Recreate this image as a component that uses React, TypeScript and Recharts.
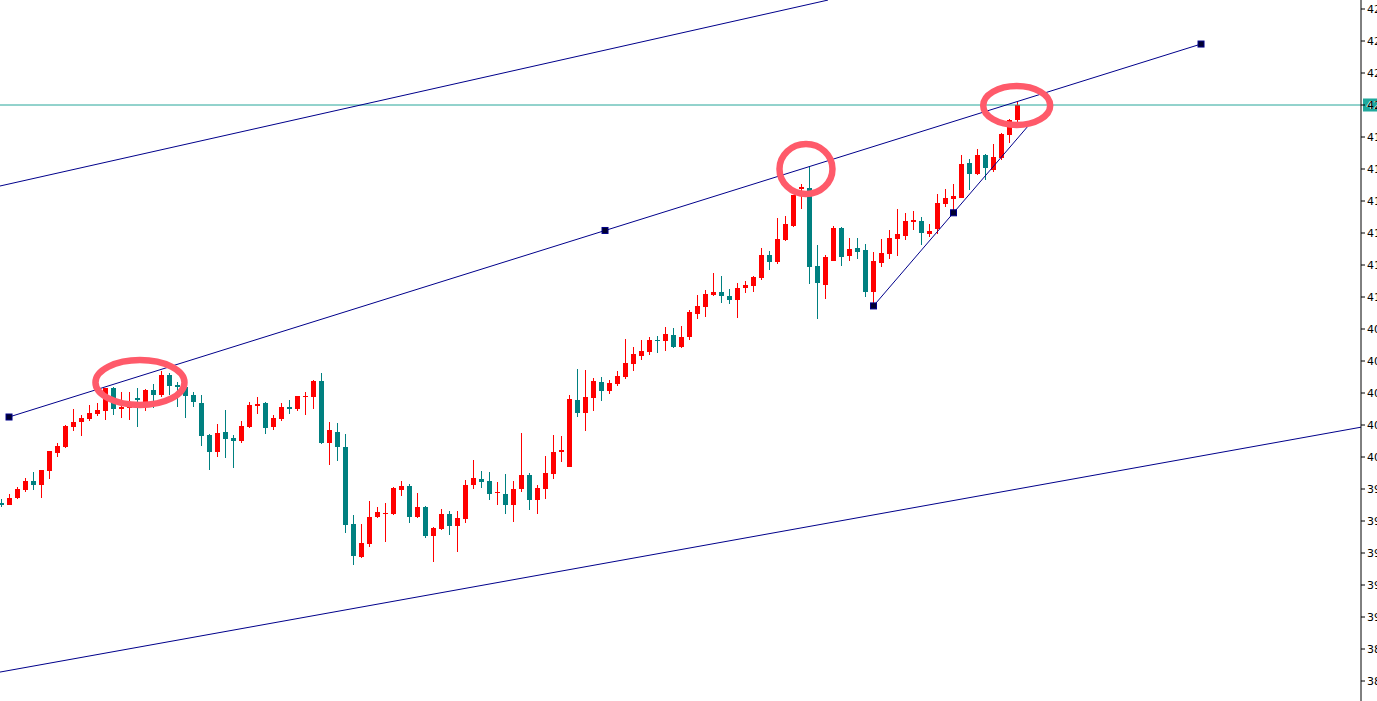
import { Bar, ComposedChart, ReferenceDot, ReferenceLine, XAxis, YAxis } from "recharts";

// candle i (1-based) ohlc
const opens = [
  3979.5, 3978.7, 3982.8, 3987.4, 3992.8, 3990.4, 3998.7, 4009.4, 4012.9, 4024.8,
  4027.8, 4029.6, 4032.5, 4034.3, 4048.0, 4035.7, 4036.1, 4042.0, 4037.3, 4046.8,
  4043.8, 4055.7, 4049.7, 4048.6, 4043.8, 4039.1, 4020.1, 4010.0, 4021.8, 4018.3,
  4016.5, 4024.8, 4037.5, 4039.1, 4024.8, 4029.6, 4036.7, 4035.5, 4042.8, 4042.6,
  4052.1, 4015.3, 4021.8, 4012.9, 3967.2, 3947.6, 3955.3, 3971.4, 3973.2, 3973.2,
  3987.4, 3989.8, 3971.4, 3977.3, 3960.1, 3964.2, 3973.2, 3966.0, 3970.2, 3990.4,
  3993.9, 3992.8, 3985.6, 3985.0, 3978.5, 3988.0, 3996.3, 3981.5, 3988.0, 3996.9,
  4010.0, 4001.1, 4040.8, 4033.1, 4042.0, 4051.5, 4046.2, 4050.3, 4054.5, 4062.4,
  4067.1, 4069.5, 4076.5, 4075.9, 4079.4, 4072.3, 4078.3, 4091.9, 4096.1, 4103.2,
  4105.0, 4102.6, 4100.4, 4107.3, 4108.7, 4113.5, 4126.9, 4122.9, 4135.8, 4144.2,
  4166.1, 4166.7, 4120.4, 4109.3, 4123.5, 4143.0, 4126.5, 4131.1, 4129.9, 4105.2,
  4122.2, 4127.5, 4136.4, 4138.2, 4146.5, 4147.1, 4139.4, 4142.4, 4157.2, 4160.2,
  4160.8, 4181.6, 4175.0, 4186.3, 4177.4, 4184.5, 4198.2, 4207.1,
];
const highs = [
  3981.9, 3985.0, 3989.2, 3994.5, 3998.1, 3999.3, 4010.7, 4015.1, 4025.8, 4035.3,
  4031.9, 4037.9, 4039.1, 4048.0, 4048.7, 4045.6, 4045.4, 4048.0, 4047.4, 4050.3,
  4058.1, 4056.9, 4051.8, 4051.5, 4045.4, 4043.8, 4020.7, 4026.6, 4034.9, 4020.1,
  4028.4, 4039.7, 4042.4, 4039.7, 4031.9, 4039.1, 4040.8, 4043.2, 4045.6, 4052.7,
  4056.7, 4027.8, 4027.2, 4020.7, 3972.6, 3967.2, 3980.9, 3977.3, 3979.7, 3989.2,
  3992.8, 3991.0, 3985.6, 3977.9, 3965.4, 3976.1, 3974.9, 3974.9, 3993.4, 4005.2,
  3998.7, 3998.1, 3992.2, 3996.9, 3992.8, 4021.2, 3997.5, 3990.4, 4007.6, 4020.1,
  4019.5, 4043.8, 4059.2, 4058.7, 4053.9, 4054.5, 4052.7, 4058.1, 4077.1, 4072.3,
  4076.5, 4078.3, 4078.9, 4084.2, 4083.6, 4084.8, 4094.3, 4103.2, 4106.2, 4116.3,
  4114.5, 4106.6, 4110.5, 4111.5, 4114.5, 4131.1, 4129.3, 4148.9, 4150.1, 4162.6,
  4169.1, 4179.2, 4132.9, 4126.9, 4144.2, 4143.6, 4137.2, 4137.0, 4133.5, 4128.7,
  4136.4, 4141.8, 4154.3, 4151.9, 4153.1, 4149.5, 4145.3, 4163.2, 4166.1, 4169.1,
  4186.3, 4183.9, 4189.9, 4186.9, 4192.8, 4199.4, 4207.7, 4217.8,
];
const lows = [
  3977.1, 3978.3, 3981.9, 3986.4, 3987.4, 3982.8, 3994.1, 4007.2, 4012.5, 4022.6,
  4019.5, 4028.5, 4031.5, 4029.0, 4031.9, 4030.2, 4029.0, 4024.8, 4034.3, 4036.1,
  4042.8, 4043.8, 4036.4, 4030.2, 4036.4, 4013.5, 3999.3, 4007.0, 4006.4, 4000.5,
  4015.5, 4024.4, 4032.5, 4020.7, 4023.0, 4028.5, 4032.5, 4034.3, 4031.9, 4035.5,
  4015.0, 4002.2, 4004.6, 3961.8, 3943.1, 3947.3, 3953.7, 3970.8, 3956.5, 3972.6,
  3983.8, 3967.8, 3971.0, 3958.9, 3944.7, 3963.7, 3960.7, 3950.6, 3967.8, 3988.0,
  3988.6, 3981.5, 3978.5, 3973.2, 3968.4, 3986.2, 3975.5, 3973.2, 3982.1, 3993.9,
  4004.0, 4000.8, 4030.8, 4022.4, 4034.3, 4040.2, 4044.4, 4049.1, 4053.3, 4058.2,
  4064.8, 4067.7, 4068.9, 4070.1, 4071.7, 4071.7, 4076.5, 4088.9, 4090.1, 4102.6,
  4098.4, 4098.0, 4089.4, 4104.6, 4105.1, 4112.1, 4118.0, 4121.8, 4135.3, 4143.6,
  4154.4, 4109.9, 4089.1, 4101.0, 4123.2, 4120.6, 4123.5, 4124.7, 4102.2, 4096.7,
  4119.8, 4124.6, 4126.3, 4135.8, 4141.8, 4132.9, 4137.8, 4139.4, 4155.3, 4152.0,
  4160.5, 4165.5, 4174.4, 4171.5, 4176.2, 4183.3, 4193.4, 4205.9,
];
const closes = [
  3978.3, 3982.7, 3988.0, 3992.8, 3990.4, 3999.3, 4010.7, 4013.5, 4025.4, 4027.8,
  4030.2, 4033.1, 4034.9, 4048.0, 4035.5, 4036.9, 4036.7, 4040.8, 4046.8, 4043.8,
  4055.7, 4049.3, 4048.3, 4043.4, 4039.7, 4019.5, 4010.0, 4021.2, 4017.7, 4016.5,
  4025.4, 4037.9, 4038.6, 4024.2, 4030.2, 4036.7, 4035.5, 4043.2, 4043.4, 4052.1,
  4015.3, 4023.0, 4012.9, 3966.6, 3948.2, 3955.9, 3971.4, 3974.3, 3973.8, 3988.6,
  3989.8, 3971.4, 3977.3, 3960.1, 3964.8, 3973.2, 3966.0, 3970.8, 3990.4, 3994.5,
  3992.2, 3985.0, 3986.2, 3978.5, 3988.0, 3996.3, 3981.5, 3988.6, 3997.5, 4010.0,
  4011.2, 4041.4, 4033.1, 4042.6, 4052.1, 4046.2, 4050.9, 4055.1, 4062.8, 4068.2,
  4069.9, 4076.5, 4075.9, 4080.0, 4072.3, 4078.3, 4093.1, 4096.7, 4103.8, 4105.0,
  4102.6, 4100.4, 4107.3, 4109.1, 4113.9, 4126.9, 4122.9, 4136.4, 4145.3, 4162.6,
  4167.3, 4120.0, 4110.5, 4125.8, 4143.0, 4125.9, 4130.5, 4128.9, 4105.2, 4123.4,
  4128.1, 4137.0, 4139.4, 4147.1, 4147.7, 4140.0, 4141.2, 4157.8, 4160.8, 4162.0,
  4181.0, 4175.0, 4186.3, 4178.6, 4185.1, 4198.8, 4207.1, 4216.0,
];

const priceTicks = [
  4273, 4254, 4235, 4216, 4197, 4178, 4159, 4140, 4121, 4102, 4083,
  4064, 4045, 4026, 4007, 3988, 3969, 3950, 3931, 3912, 3893, 3874,
];
const lastPrice = 4216.0;

// trend lines: [bar index, price]
const upperLine = [[0.81, 4167.9], [104.31, 4278.3]];
const middleLine = [[1.94, 4030.75], [150.94, 4252.2]];
const lowerLine = [[0.81, 3879.3], [171.06, 4024.8]];
const supportLine = [[110, 4096.7], [129.5, 4204.5]];
const anchors = [
  [1.94, 4030.75], [76.44, 4141.5], [150.94, 4252.2],
  [110, 4096.7], [120, 4152.0],
];
const circled = [[18.31, 4051.2], [101.56, 4178.0], [127.9, 4215.7]];
const ringSize = [[44.5, 22.5], [26.5, 25], [33.5, 19.5]];

const data = opens.map((open, k) => ({
  i: k + 1,
  open,
  high: highs[k],
  low: lows[k],
  close: closes[k],
  range: [lows[k], highs[k]],
}));

const RED = "#ff0000";
const TEAL = "#008080";
const NAVY = "#00008b";

function Candle(props: any) {
  const { x, y, width, height, payload } = props;
  if (x == null || y == null || !payload) return null;
  const { open, close, high, low } = payload;
  const top = Math.min(y, y + height);
  const h = Math.abs(height);
  const k = high > low ? h / (high - low) : 0;
  const cx = x + width / 2;
  const bodyTop = top + (high - Math.max(open, close)) * k;
  const bodyH = Math.max(1, Math.abs(open - close) * k);
  const color = close >= open ? RED : TEAL;
  return (
    <g shapeRendering="crispEdges">
      <line x1={cx} x2={cx} y1={top} y2={top + h} stroke={color} strokeWidth={1} />
      <rect x={x} y={bodyTop} width={width} height={bodyH} fill={color} />
    </g>
  );
}

function PriceTag(props: any) {
  const vb = props.viewBox;
  if (!vb) return null;
  const right = vb.x + vb.width;
  return (
    <g>
      <rect x={right + 2} y={vb.y - 6.5} width={40} height={13} fill="#20a89c" />
      <text x={right + 5} y={vb.y} dy="0.36em" fontSize={11} fill="#fff" fontFamily="DejaVu Sans">
        {lastPrice.toFixed(2)}
      </text>
    </g>
  );
}

const seg = (pts: number[][]) => pts.map(([x, y]) => ({ x, y }));

export default function App() {
  return (
    <div style={{ position: "absolute", left: 0, top: 0, width: 1377, height: 701, background: "#fff" }}>
      <ComposedChart width={1377} height={701} data={data} margin={{ top: 0, right: 0, bottom: 0, left: 0 }}>
        <XAxis dataKey="i" type="number" domain={[0.8125, 170.9375]} allowDataOverflow hide />
        <YAxis
          orientation="right"
          width={16}
          domain={[3862.125, 4278.34375]}
          allowDataOverflow
          ticks={priceTicks}
          interval={0}
          tickSize={4}
          tickMargin={2}
          axisLine={{ stroke: "#000" }}
          tickLine={{ stroke: "#000" }}
          tick={{ fontSize: 11, fill: "#000", fontFamily: "DejaVu Sans" }}
          tickFormatter={(v: number) => v.toFixed(2)}
        />
        <Bar dataKey="range" barSize={5} shape={<Candle />} isAnimationActive={false} />
        <ReferenceLine y={lastPrice} stroke="#26a69a" strokeWidth={1} label={<PriceTag />} />
        {[upperLine, middleLine, lowerLine, supportLine].map((pts, n) => (
          <ReferenceLine key={n} segment={seg(pts)} stroke={NAVY} strokeWidth={1} ifOverflow="hidden" />
        ))}
        {anchors.map(([x, y], n) => (
          <ReferenceDot
            key={"a" + n}
            x={x}
            y={y}
            r={3}
            shape={(p: any) => (
              <rect x={p.cx - 3} y={p.cy - 3} width={6} height={6} fill="#000030" stroke={NAVY} strokeWidth={1} />
            )}
          />
        ))}
        {circled.map(([x, y], n) => (
          <ReferenceDot
            key={"c" + n}
            x={x}
            y={y}
            r={10}
            shape={(p: any) => (
              <ellipse
                cx={p.cx}
                cy={p.cy}
                rx={ringSize[n][0]}
                ry={ringSize[n][1]}
                fill="none"
                stroke="#ff5a6a"
                strokeWidth={6.5}
              />
            )}
          />
        ))}
      </ComposedChart>
    </div>
  );
}
